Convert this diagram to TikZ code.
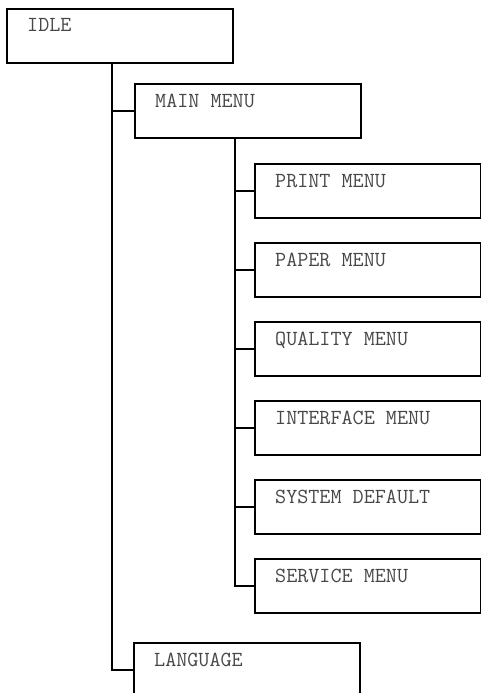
\documentclass[tikz,border=0pt]{standalone}
\usepackage{fontspec}
\usetikzlibrary{calc}
\begin{document}
\begin{tikzpicture}[x=1pt,y=-1pt,
  menubox/.style={draw=black, line width=2.2pt, rectangle, inner sep=0pt, minimum height=54pt, anchor=north west},
  lbl/.style={anchor=base west, inner sep=0pt, text=black!72, font=\ttfamily\fontsize{21.5}{23}\selectfont},
  wire/.style={draw=black, line width=2.2pt}]
\useasboundingbox (0,0) rectangle (481,693);
\clip (0,0) rectangle (481,693);
\node[menubox, minimum width=226pt] (idle) at (6,8) {};
\node[lbl] (idlet) at ($(idle.north west)+(21,24)$) {IDLE};
\node[menubox, minimum width=226pt] (main) at (134,83) {};
\node[lbl] (maint) at ($(main.north west)+(21,24)$) {MAIN MENU};
\node[menubox, minimum width=226pt] (lang) at (133,642) {};
\node[lbl] (langt) at ($(lang.north west)+(21,24)$) {LANGUAGE};
\foreach \n/\t/\y in {pr/PRINT MENU/163, pa/PAPER MENU/242, qu/QUALITY MENU/321, in/INTERFACE MENU/400, sy/SYSTEM DEFAULT/479, se/SERVICE MENU/558}{
  \node[menubox, minimum width=226pt] (\n) at (254,\y) {};
  \node[lbl] at ($(\n.north west)+(21,24)$) {\t};
}
\coordinate (t1) at ($(idle.south west)+(106,0)$);
\coordinate (t2) at ($(main.south west)+(101,0)$);
\draw[wire] (t1) |- (lang.west);
\draw[wire] (t1|-main.west) -- (main.west);
\draw[wire] (t2) |- (se.west);
\foreach \n in {pr,pa,qu,in,sy}{
  \draw[wire] (t2|-\n.west) -- (\n.west);
}
\end{tikzpicture}
\end{document}
